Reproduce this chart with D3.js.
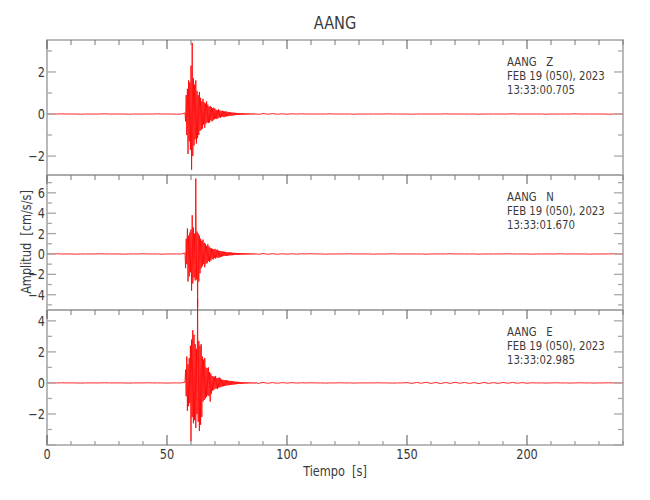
<!DOCTYPE html>
<html><head><meta charset="utf-8">
<script src="https://cdn.jsdelivr.net/npm/d3@7"></script>
<style>
body{margin:0;background:#fff}
text{font-family:"DejaVu Sans Condensed","DejaVu Sans",sans-serif;fill:#3a3a3a;white-space:pre}
</style>
</head><body><svg id="c" width="650" height="500"></svg>
<script>
// ---------- data ----------
const title = "AANG";
const station = "AANG";
const components = ["Z", "N", "E"];
const dateLabel = "FEB 19 (050), 2023";
const startTimes = ["13:33:00.705", "13:33:01.670", "13:33:02.985"];
const xLabel = "Tiempo  [s]";
const yLabel = "Amplitud  [cm/s/s]";
const xDomain = [0, 240];
const xMajorTicks = [0, 50, 100, 150, 200];
const yDomains = [[-2.9, 3.52], [-5.5, 7.75], [-4.0, 4.7]];
const yTickLabels = [[-2, 0, 2], [-4, -2, 0, 2, 4, 6], [-2, 0, 2, 4]];

// strong-motion window: samples every 0.25 s starting at 57.5 s
const eventStart = 57.5, eventStep = 0.25;
const zEvent = [0.05,-0.35,0.9,-1.0,1.2,-1.9,1.6,-1.3,1.5,-1.7,
2.3,-2.65,3.38,-2.0,1.7,-1.5,1.4,-1.2,1.6,-1.4,
1.1,-1.15,0.9,-1.0,1.05,-0.8,0.77,-0.75,0.6,-0.7,
0.72,-0.5,0.55,-0.65,0.5,-0.45,0.6,-0.4,0.45,-0.43,
0.35,-0.4,0.38,-0.3,0.33,-0.35,0.28,-0.3,0.3,-0.25,
0.25,-0.22,0.2,-0.24,0.18,-0.2,0.22,-0.16,0.17,-0.18,
0.15,-0.14,0.16,-0.13,0.14,-0.15,0.12,-0.13,0.13,-0.11,
0.11,-0.1,0.09,-0.1,0.09,-0.08,0.08,-0.08,0.07,-0.07,
0.07,-0.06,0.06,-0.06,0.06,-0.05,0.05,-0.05,0.05,-0.04,
0.05,-0.04,0.04,-0.04,0.04,-0.04,0.04,-0.03,0.04,-0.03,
0.03,-0.03,0.03,-0.03,0.03,-0.03,0.03,-0.02,0.03,-0.02,
0.02,-0.02,0.03,-0.02,0.02,-0.02,0.02,-0.02,0.02,-0.02,0.02];
const nEvent = [0.1,-1.4,1.5,-1.0,2.5,-2.7,1.8,-2.2,2.1,-1.8,
2.4,-3.6,3.8,-2.9,2.6,-2.3,2.0,-2.6,7.4,-2.5,
2.2,-5.2,2.0,-2.7,1.8,-1.9,1.5,-1.4,1.3,-1.2,
1.4,-1.0,1.1,-1.3,1.0,-0.95,0.8,-0.9,0.95,-0.7,
0.75,-0.8,0.6,-0.65,0.55,-0.5,0.5,-0.55,0.45,-0.4,
0.5,-0.45,0.4,-0.35,0.42,-0.38,0.32,-0.35,0.3,-0.32,
0.28,-0.26,0.25,-0.22,0.24,-0.2,0.22,-0.19,0.2,-0.18,
0.17,-0.18,0.16,-0.15,0.16,-0.14,0.15,-0.13,0.14,-0.12,
0.12,-0.11,0.11,-0.1,0.11,-0.09,0.1,-0.1,0.09,-0.09,
0.09,-0.08,0.09,-0.08,0.08,-0.07,0.08,-0.07,0.07,-0.07,
0.07,-0.06,0.07,-0.06,0.06,-0.06,0.06,-0.05,0.06,-0.05,
0.05,-0.05,0.05,-0.05,0.04,-0.05,0.04,-0.04,0.04,-0.04,0.04];
const eEvent = [0.05,0.86,-0.86,1.7,-1.8,1.2,-1.5,1.6,-1.3,2.4,
-3.76,2.8,-2.2,3.4,-2.6,3.1,-2.4,2.5,-2.9,2.2,
-2.0,5.4,-2.5,2.7,-3.1,2.4,-2.7,2.5,-2.2,1.7,
-1.2,1.5,-1.1,1.6,-1.0,1.0,-0.9,0.95,-0.8,1.0,
-0.85,0.7,-1.2,0.6,-0.7,0.45,-0.5,0.42,-0.45,0.4,
-0.38,0.45,-0.35,0.3,-0.4,0.32,-0.3,0.35,-0.28,0.3,
-0.25,0.22,-0.24,0.2,-0.21,0.19,-0.2,0.18,-0.17,0.18,
-0.16,0.15,-0.15,0.14,-0.14,0.13,-0.12,0.13,-0.12,0.11,
-0.11,0.1,-0.1,0.09,-0.09,0.08,-0.08,0.08,-0.07,0.07,
-0.07,0.06,-0.06,0.06,-0.06,0.05,-0.05,0.05,-0.05,0.05,
-0.04,0.04,-0.04,0.04,-0.04,0.04,-0.03,0.04,-0.03,0.03,
-0.03,0.03,-0.03,0.03,-0.03,0.03,-0.03,0.03,-0.03,0.03,-0.03];

// background record: samples every 2 s from 0 s to 240 s (quiet, nearly flat)
const noiseStep = 2;
const zNoise = [0,0,0,0.01,0,0,0,-0.01,0,0,
0,0,0.01,0,0,0,0,-0.01,0,0,
0,0,0,0.01,0,0,0,-0.01,0,
0.9,-1.5,2.0,-1.2,0.8,-0.6,0.45,-0.3,0.2,-0.15,0.12,-0.1,0.08,-0.06,0.05,
-0.02,0.02,-0.01,0.02,-0.01,0.01,-0.01,0.01,0,0.01,0,0,
0,0,0,0.01,0,0,0,0,-0.01,0,
0,0,0,0,0,0.01,0,0,0,0,
-0.01,0,0,0,0,0,0,0.01,0,0,
0,0,0,0,-0.01,0,0,0,0,0,
0,0.01,0,0,0,0,0,0,-0.01,0,
0,0,0,0,0.01,0,0,0,0,0,
0,-0.01,0,0,0];
const nNoise = [0,0,0.02,0,0,0,-0.02,0,0,0,
0,0.02,0,0,0,0,-0.02,0,0,0,
0.02,0,0,0,-0.02,0,0,0,0,
1.5,-2.5,3.0,-1.8,1.2,-0.9,0.6,-0.45,0.35,-0.25,0.2,-0.16,0.13,-0.11,0.1,
-0.04,0.04,-0.03,0.03,-0.03,0.02,-0.02,0.02,-0.02,0.02,0,0.02,
0,0,-0.02,0,0,0,0,0.02,0,0,
0,0,-0.02,0,0,0,0.02,0,0,0,
0,0,0,-0.02,0,0,0,0,0.02,0,
0,0,0,0,-0.02,0,0,0,0,0,
0.02,0,0,0,0,-0.02,0,0,0,0,
0,0.02,0,0,0,0,0,-0.02,0,0,
0,0,0.02,0,0];
const eNoise = [0,0,0,0.01,0,0,0,-0.01,0,0,
0,0,0.01,0,0,0,0,-0.01,0,0,
0,0.01,0,0,0,-0.01,0,0,0,
1.0,-2.0,2.5,-1.5,1.0,-0.8,0.45,-0.3,0.2,-0.15,0.12,-0.1,0.09,-0.07,0.06,
-0.03,0.03,-0.02,0.02,-0.02,0.02,-0.01,0.02,-0.01,0.01,0,0.01,
0,0,-0.01,0,0,0.01,0,0,-0.01,0,
0,0,0,0.01,0,0,-0.01,0,0,
0.02,-0.03,0.03,-0.02,0.04,-0.03,0.03,-0.04,0.03,-0.03,
0.04,-0.02,0.03,-0.03,0.02,-0.04,0.03,-0.03,0.02,-0.03,
0.03,-0.02,0.03,-0.02,0.02,-0.02,
0.01,0,0,-0.01,0,0.01,0,0,-0.01,0,
0.01,0,0,-0.01,0,0,0.01,0,0,0];

const eventSeries = [zEvent, nEvent, eEvent];
const noiseSeries = [zNoise, nNoise, eNoise];

// ---------- layout ----------
const svg = d3.select("#c");
const left = 47, right = 623;
const panelTop = [40, 175, 310], panelH = 135;
const x = d3.scaleLinear().domain(xDomain).range([left, right]);
const axisCol = "#a8a8a8", tickDark = "#555";
const eventEnd = eventStart + eventStep * (zEvent.length - 1);
const SX = 0.9;

function txt(sel, px, py, str, size, anchor, rot) {
  return sel.append("text")
    .attr("transform", `translate(${px},${py})` + (rot ? ` rotate(${rot})` : "") + ` scale(${SX},1)`)
    .attr("text-anchor", anchor || "start").style("font-size", size + "px").text(str);
}

txt(svg, (left + right) / 2, 29, title, 18, "middle");

components.forEach((comp, k) => {
  const top = panelTop[k], bot = top + panelH;
  const [y0, y1] = yDomains[k];
  const y = d3.scaleLinear().domain([y0, y1]).range([bot, top]);
  const g = svg.append("g");

  const pts = [];
  noiseSeries[k].forEach((v, i) => {
    const t = i * noiseStep;
    if (t < eventStart || t > eventEnd) pts.push([t, v]);
  });
  eventSeries[k].forEach((v, i) => pts.push([eventStart + i * eventStep, v]));
  pts.sort((a, b) => a[0] - b[0]);

  g.append("rect").attr("x", left).attr("y", top).attr("width", right - left).attr("height", panelH)
    .attr("fill", "none").attr("stroke", axisCol).attr("stroke-width", 1.6);

  g.append("path").datum(pts)
    .attr("d", d3.line().x(d => x(d[0])).y(d => y(d[1])))
    .attr("fill", "none").attr("stroke", "#ff0000").attr("stroke-width", 0.85);

  const xt = d3.range(xDomain[0], xDomain[1] + 0.001, 10);
  xt.forEach(t => {
    const major = t % 50 === 0;
    g.append("line").attr("x1", x(t)).attr("x2", x(t))
      .attr("y1", top).attr("y2", top + (major ? 9 : 5))
      .attr("stroke", major ? tickDark : "#777").attr("stroke-width", 1);
    if (k === components.length - 1) {
      g.append("line").attr("x1", x(t)).attr("x2", x(t))
        .attr("y1", bot).attr("y2", bot - (major ? 10 : 4))
        .attr("stroke", major ? tickDark : "#888").attr("stroke-width", 1);
    }
  });

  const yt = d3.range(Math.ceil(y0), Math.floor(y1) + 0.001, 1);
  yt.forEach(v => {
    const major = Math.abs(v % 2) === 0;
    const len = major ? 9 : 5;
    g.append("line").attr("x1", left).attr("x2", left + len).attr("y1", y(v)).attr("y2", y(v))
      .attr("stroke", axisCol).attr("stroke-width", 1.3);
    g.append("line").attr("x1", right).attr("x2", right - len).attr("y1", y(v)).attr("y2", y(v))
      .attr("stroke", axisCol).attr("stroke-width", 1.3);
  });
  yTickLabels[k].forEach(v => {
    txt(g, left - 2, y(v) + 5, v < 0 ? "\u2212" + Math.abs(v) : String(v), 14, "end");
  });

  const lx = 507, ly = top + 26;
  txt(g, lx, ly, station + "   " + comp, 12.5);
  txt(g, lx, ly + 14, dateLabel, 12.5);
  txt(g, lx, ly + 28, startTimes[k], 12.5);
});

const lastBot = panelTop[2] + panelH;
xMajorTicks.forEach(t => {
  txt(svg, x(t), lastBot + 14, String(t), 14, "middle");
});
txt(svg, (left + right) / 2, lastBot + 31, xLabel, 14, "middle");
txt(svg, 31, 242, yLabel, 14, "middle", -90);
</script>
</body></html>
